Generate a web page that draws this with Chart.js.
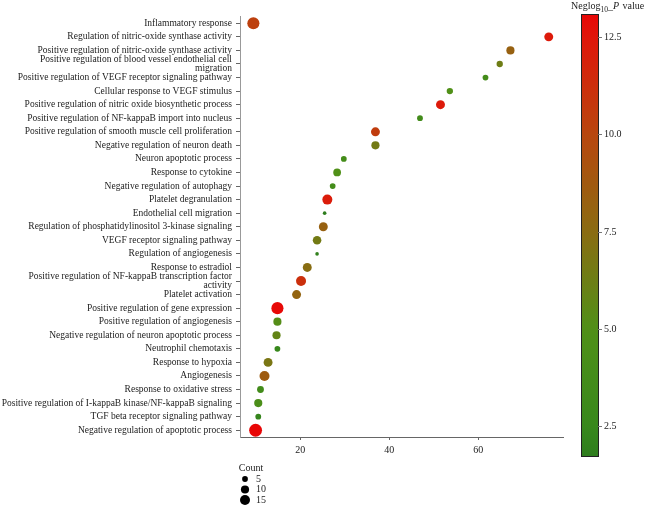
<!DOCTYPE html>
<html>
<head>
<meta charset="utf-8">
<script src="https://cdn.jsdelivr.net/npm/chart.js@4"></script>
<style>
  html, body { margin: 0; padding: 0; background: #fff; }
  #wrap { width: 648px; height: 512px; }
</style>
</head>
<body>
<div id="wrap"><canvas id="chart" width="648" height="512"></canvas></div>
<script>
// GO terms, top to bottom
const terms = [
  'Inflammatory response',
  'Regulation of nitric-oxide synthase activity',
  'Positive regulation of nitric-oxide synthase activity',
  ['Positive regulation of blood vessel endothelial cell', 'migration'],
  'Positive regulation of VEGF receptor signaling pathway',
  'Cellular response to VEGF stimulus',
  'Positive regulation of nitric oxide biosynthetic process',
  'Positive regulation of NF-kappaB import into nucleus',
  'Positive regulation of smooth muscle cell proliferation',
  'Negative regulation of neuron death',
  'Neuron apoptotic process',
  'Response to cytokine',
  'Negative regulation of autophagy',
  'Platelet degranulation',
  'Endothelial cell migration',
  'Regulation of phosphatidylinositol 3-kinase signaling',
  'VEGF receptor signaling pathway',
  'Regulation of angiogenesis',
  'Response to estradiol',
  ['Positive regulation of NF-kappaB transcription factor', 'activity'],
  'Platelet activation',
  'Positive regulation of gene expression',
  'Positive regulation of angiogenesis',
  'Negative regulation of neuron apoptotic process',
  'Neutrophil chemotaxis',
  'Response to hypoxia',
  'Angiogenesis',
  'Response to oxidative stress',
  'Positive regulation of I-kappaB kinase/NF-kappaB signaling',
  'TGF beta receptor signaling pathway',
  'Negative regulation of apoptotic process'
];
const xValues = [9.5, 75.8, 67.2, 64.8, 61.6, 53.6, 51.5, 46.9, 36.9, 36.9,
                 29.8, 28.3, 27.3, 26.1, 25.5, 25.2, 23.8, 23.8, 21.6, 20.2,
                 19.2, 14.9, 14.9, 14.7, 14.9, 12.8, 12.0, 11.1, 10.6, 10.6, 10.0];
const counts = [22, 12, 10, 6, 5, 6, 12, 5, 12, 10,
                5, 9, 5, 15, 2, 12, 11, 2, 12, 15,
                12, 22, 10, 10, 5, 12, 15, 7, 10, 5, 25];
const negLogP = [10.3, 12.3, 8.2, 6.3, 3.8, 5.0, 12.3, 3.5, 10.5, 6.5,
                 3.8, 5.0, 3.8, 12.2, 1.7, 8.2, 6.5, 2.0, 7.4, 11.2,
                 8.0, 13.0, 5.2, 5.8, 2.5, 6.8, 8.6, 3.5, 4.5, 2.3, 13.1];
const xTicks = [20, 40, 60];
const colorTicks = [2.5, 5.0, 7.5, 10.0, 12.5];
const legendCounts = [5, 10, 15];

const serif = '"Liberation Serif", "DejaVu Serif", serif';

// colour ramp stops (value -> rgb)
const rampAt = [1.7, 2.5, 5.0, 7.5, 10.0, 12.5, 13.1];
const rampRgb = [[46, 125, 30], [56, 136, 28], [80, 144, 24], [138, 108, 18],
                 [184, 70, 14], [224, 22, 10], [232, 6, 6]];
const pMin = Math.min(...negLogP), pMax = Math.max(...negLogP);
function pColor(v) {
  let i = 0;
  while (i < rampAt.length - 2 && v > rampAt[i + 1]) i++;
  const t = Math.max(0, Math.min(1, (v - rampAt[i]) / (rampAt[i + 1] - rampAt[i])));
  const c = rampRgb[i].map((a, k) => Math.round(a + (rampRgb[i + 1][k] - a) * t));
  return 'rgb(' + c.join(',') + ')';
}
function countRadius(c) { return 1.29 * Math.sqrt(c); }

const points = terms.map((t, i) => ({ x: xValues[i], y: i }));

// colour bar + size legend
const extras = {
  id: 'extras',
  afterDraw(chart) {
    const ctx = chart.ctx;
    const bx = 581, bw = 18, top = 14, bottom = 457;
    const yOf = v => bottom - (v - pMin) / (pMax - pMin) * (bottom - top);
    const grad = ctx.createLinearGradient(0, bottom, 0, top);
    for (let k = 0; k <= 40; k++) grad.addColorStop(k / 40, pColor(pMin + (pMax - pMin) * k / 40));
    ctx.save();
    ctx.fillStyle = grad;
    ctx.fillRect(bx, top, bw, bottom - top);
    ctx.strokeStyle = '#222';
    ctx.lineWidth = 1;
    ctx.strokeRect(bx + 0.5, top + 0.5, bw - 1, bottom - top - 1);
    ctx.font = '10px ' + serif;
    ctx.fillStyle = '#222';
    ctx.textBaseline = 'middle';
    ctx.textAlign = 'left';
    colorTicks.forEach(v => {
      const y = Math.round(yOf(v)) + 0.5;
      ctx.strokeStyle = '#777';
      ctx.beginPath(); ctx.moveTo(bx + bw - 1, y); ctx.lineTo(bx + bw + 3, y); ctx.stroke();
      ctx.fillText(v.toFixed(1), bx + bw + 5, y);
    });
    // title Neglog10_P value
    let x = 571;
    const ty = 9;
    ctx.textBaseline = 'alphabetic';
    ctx.font = '10px ' + serif;
    ctx.fillText('Neglog', x, ty); x += ctx.measureText('Neglog').width;
    ctx.font = '7.5px ' + serif;
    ctx.fillText('10', x, ty + 2.5); x += ctx.measureText('10').width;
    ctx.font = '10px ' + serif;
    ctx.fillText('_', x, ty); x += ctx.measureText('_').width;
    ctx.font = 'italic 10px ' + serif;
    ctx.fillText('P', x, ty); x += ctx.measureText('P').width + 1;
    ctx.font = '10px ' + serif;
    ctx.fillText(' value', x, ty);

    // Count legend
    ctx.textBaseline = 'middle';
    ctx.font = '10px ' + serif;
    ctx.textAlign = 'center';
    ctx.fillText('Count', 251, 468);
    ctx.textAlign = 'left';
    legendCounts.forEach((c, i) => {
      const y = 479 + i * 10.5;
      ctx.fillStyle = '#000';
      ctx.beginPath(); ctx.arc(245, y, countRadius(c), 0, Math.PI * 2); ctx.fill();
      ctx.fillStyle = '#222';
      ctx.fillText(String(c), 256, y);
    });
    ctx.restore();
  }
};

new Chart(document.getElementById('chart'), {
  type: 'scatter',
  data: {
    datasets: [{
      data: points,
      pointRadius: counts.map(countRadius),
      pointHoverRadius: counts.map(countRadius),
      pointBackgroundColor: negLogP.map(pColor),
      pointBorderWidth: 0,
      pointBorderColor: 'rgba(0,0,0,0)'
    }]
  },
  options: {
    responsive: false,
    animation: false,
    layout: { padding: { top: 16.5, right: 85, bottom: 55, left: 0 } },
    plugins: { legend: { display: false }, tooltip: { enabled: false } },
    scales: {
      x: {
        type: 'linear',
        min: 6.5,
        max: 79,
        afterBuildTicks(scale) { scale.ticks = xTicks.map(v => ({ value: v })); },
        afterFit(scale) { scale.height = 20; },
        grid: { display: true, drawOnChartArea: false, tickLength: 3, color: '#666' },
        border: { color: '#666', width: 1 },
        ticks: { font: { family: serif, size: 10 }, color: '#222', padding: 4 }
      },
      y: {
        type: 'category',
        labels: terms,
        offset: true,
        afterFit(scale) { scale.width = 240; },
        grid: { display: true, drawOnChartArea: false, tickLength: 4, color: '#666', offset: false },
        border: { color: '#999', width: 1 },
        ticks: {
          autoSkip: false,
          font: { family: serif, size: 9.5, lineHeight: 0.95 },
          color: '#222',
          padding: 4
        }
      }
    }
  },
  plugins: [extras]
});
</script>
</body>
</html>
